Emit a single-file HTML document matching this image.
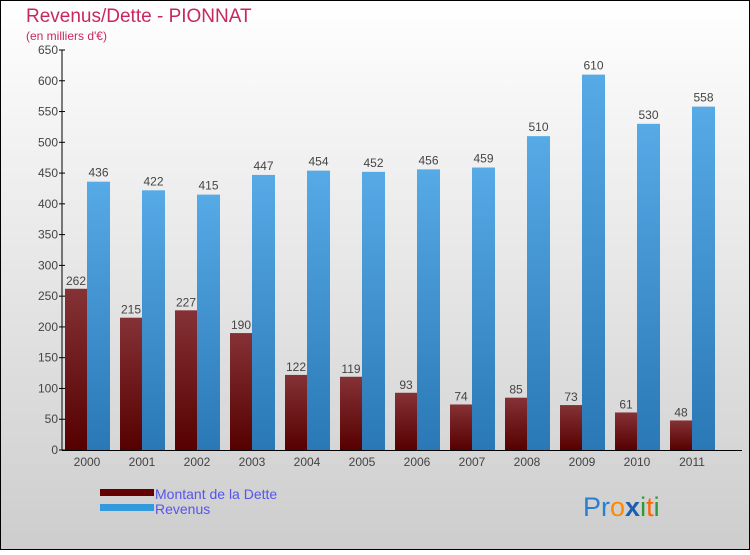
<!DOCTYPE html>
<html><head><meta charset="utf-8"><style>
body{margin:0;width:750px;height:550px;overflow:hidden;font-family:"Liberation Sans",sans-serif}
</style></head><body>
<svg id="chart" width="750" height="550" xmlns="http://www.w3.org/2000/svg">
<defs>
<linearGradient id="bg" x1="0" y1="0" x2="0" y2="1"><stop offset="0" stop-color="#ffffff"/><stop offset="1" stop-color="#cdcdcd"/></linearGradient>
<linearGradient id="red" x1="0" y1="0" x2="0" y2="1"><stop offset="0" stop-color="#853236"/><stop offset="1" stop-color="#560000"/></linearGradient>
<linearGradient id="blue" x1="0" y1="0" x2="0" y2="1"><stop offset="0" stop-color="#56aae6"/><stop offset="1" stop-color="#2a78b6"/></linearGradient>
</defs>
<rect x="0.5" y="0.5" width="749" height="549" fill="url(#bg)" stroke="#000"/>
<text x="26" y="22" font-size="19" fill="#c8285a">Revenus/Dette - PIONNAT</text>
<text x="26" y="40" font-size="12" fill="#c8285a">(en milliers d'€)</text>
<g id="grid"></g><g id="bars"></g><g id="axes"></g>
<g>
<rect x="100" y="489" width="54" height="7" fill="#660000"/>
<text x="155" y="499" font-size="14" fill="#5555ee">Montant de la Dette</text>
<rect x="100" y="504" width="54" height="7" fill="#3399dd"/>
<text x="155" y="514" font-size="14" fill="#5555ee">Revenus</text>
</g>
<text x="583" y="516" font-size="27"><tspan fill="#2a7fd0">Pr</tspan><tspan fill="#ff8800">o</tspan><tspan fill="#1a5fb0" font-weight="bold">x</tspan><tspan fill="#2a9a3a">i</tspan><tspan fill="#ff6600">t</tspan><tspan fill="#2a9a3a">i</tspan></text>
</svg>
<script>
const years=["2000","2001","2002","2003","2004","2005","2006","2007","2008","2009","2010","2011"];
const dette=[262,215,227,190,122,119,93,74,85,73,61,48];
const revenus=[436,422,415,447,454,452,456,459,510,610,530,558];
const ticks=[0,50,100,150,200,250,300,350,400,450,500,550,600,650];
const NS="http://www.w3.org/2000/svg";
const y0=450,yTop=50,vmax=650,x0=62,step=55,first=87;
function ys(v){return y0-(v/vmax)*(y0-yTop);}
function xc(i){return first+i*step;}
function mk(tag,attrs,parent,txt){const e=document.createElementNS(NS,tag);for(const k in attrs)e.setAttribute(k,attrs[k]);if(txt!==undefined)e.textContent=txt;parent.appendChild(e);return e;}
const axes=document.getElementById('axes'),bars=document.getElementById('bars');
let ax=mk('line',{x1:x0,y1:yTop,x2:x0,y2:y0,stroke:'#000'},axes);


let bx=mk('line',{x1:x0,y1:y0+0.5,x2:742,y2:y0+0.5,stroke:'#000'},axes);


ticks.forEach(t=>{const y=ys(t);
 mk('line',{x1:x0-3,y1:y,x2:x0+3,y2:y,stroke:'#000'},axes);
 const l=mk('text',{x:x0-4,y:y+4,'font-size':12,'text-anchor':'end',fill:'#444'},axes,String(t));
 
 
});
years.forEach((yr,i)=>{const c=xc(i);
 const t=mk('text',{x:c,y:466,'font-size':12,'text-anchor':'middle',fill:'#444'},axes,yr);
 
 
 const yd=ys(dette[i]);
 const r1=mk('rect',{x:c-22,y:yd,width:22,height:y0-yd,fill:'url(#red)'},bars);
 
 
 const l1=mk('text',{x:c-11,y:yd-4,'font-size':12,'text-anchor':'middle',fill:'#444'},bars,String(dette[i]));
 
 
 const yr2=ys(revenus[i]);
 const r2=mk('rect',{x:c,y:yr2,width:23,height:y0-yr2,fill:'url(#blue)'},bars);
 
 
 const l2=mk('text',{x:c+11.5,y:yr2-5,'font-size':12,'text-anchor':'middle',fill:'#444'},bars,String(revenus[i]));
 
 
});
</script>
</body></html>
